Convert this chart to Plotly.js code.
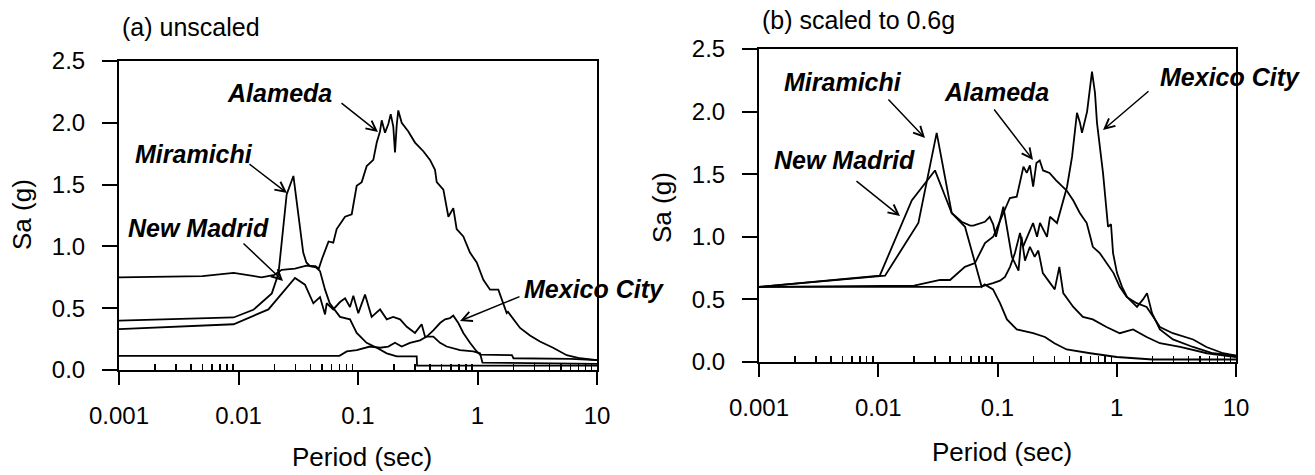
<!DOCTYPE html>
<html>
<head>
<meta charset="utf-8">
<script src="https://cdn.plot.ly/plotly-3.0.1.min.js"></script>
<style>html,body{margin:0;padding:0;background:#fff;}#chart{width:1315px;height:475px;}</style>
</head>
<body>
<div id="chart"></div>
<script>
// ---------------- DATA ----------------
// Panel (a) unscaled — period (sec) and Sa (g)
const alamedaA_T = [0.001,0.005,0.0091,0.0156,0.020,0.023,0.0297,0.037,0.044,0.047,0.050,0.053,0.0567,0.0621,0.0663,0.0779,0.0886,0.0975,0.1074,0.1183,0.1343,0.1435,0.1528,0.1579,0.1683,0.1794,0.1879,0.1974,0.2040,0.2108,0.2173,0.2321,0.2638,0.2999,0.3520,0.4005,0.4410,0.4560,0.5181,0.5707,0.6273,0.6693,0.7610,0.8650,0.985,1.119,1.274,1.494,1.644,1.755,1.80,1.93,2.27,2.75,3.33,4.29,5.58,7.21,10];
const alamedaA_Sa = [0.75,0.76,0.785,0.75,0.77,0.81,0.82,0.845,0.84,0.82,0.90,0.97,1.04,1.03,1.14,1.24,1.26,1.49,1.52,1.65,1.70,1.84,1.93,2.02,1.92,1.99,2.07,1.97,1.76,1.98,2.10,2.00,1.93,1.84,1.77,1.70,1.62,1.52,1.46,1.24,1.31,1.14,1.08,0.95,0.87,0.73,0.65,0.65,0.54,0.46,0.47,0.43,0.34,0.28,0.23,0.18,0.12,0.095,0.08];

const miramichiA_T = [0.001,0.0091,0.0133,0.019,0.0216,0.0253,0.0288,0.0348,0.037,0.0396,0.0445,0.0481,0.053,0.058,0.0707,0.0857,0.0975,0.118,0.1435,0.174,0.211,0.31,0.312,10];
const miramichiA_Sa = [0.40,0.425,0.487,0.62,0.78,1.42,1.57,0.95,0.87,0.84,0.83,0.80,0.65,0.54,0.43,0.41,0.30,0.22,0.18,0.135,0.11,0.11,0.035,0.035];

const newMadridA_T = [0.001,0.0091,0.0178,0.0297,0.036,0.0423,0.0481,0.053,0.0547,0.0621,0.0707,0.0779,0.0857,0.0914,0.1006,0.1145,0.130,0.153,0.174,0.197,0.225,0.256,0.300,0.341,0.364,0.427,0.486,0.552,0.714,0.922,1.05,1.1,10];
const newMadridA_Sa = [0.33,0.37,0.49,0.745,0.69,0.54,0.59,0.45,0.54,0.49,0.55,0.58,0.51,0.60,0.46,0.61,0.43,0.49,0.41,0.43,0.41,0.35,0.30,0.37,0.27,0.27,0.22,0.19,0.16,0.15,0.135,0.06,0.05];

const mexicoA_T = [0.001,0.07,0.0805,0.0975,0.126,0.153,0.179,0.204,0.232,0.272,0.330,0.376,0.427,0.486,0.535,0.589,0.627,0.691,0.761,0.865,0.985,1.05,1.94,2.0,6.0,10];
const mexicoA_Sa = [0.115,0.115,0.15,0.16,0.19,0.18,0.19,0.22,0.19,0.22,0.24,0.27,0.32,0.38,0.41,0.42,0.44,0.38,0.30,0.22,0.15,0.125,0.12,0.095,0.09,0.08];

// Panel (b) scaled to 0.6g
const alamedaB_T = [0.001,0.02,0.033,0.040,0.0533,0.0647,0.0785,0.092,0.112,0.127,0.145,0.165,0.176,0.187,0.199,0.212,0.226,0.241,0.273,0.31,0.38,0.432,0.49,0.56,0.60,0.63,0.72,0.82,0.94,1.06,1.21,1.47,1.78,2.03,2.3,2.95,4.37,5.65,7.8,10];
const alamedaB_Sa = [0.6,0.61,0.655,0.655,0.76,0.79,0.95,1.0,1.19,1.31,1.32,1.56,1.51,1.57,1.40,1.59,1.61,1.53,1.51,1.45,1.37,1.29,1.19,1.11,1.0,0.92,0.87,0.79,0.71,0.60,0.52,0.47,0.44,0.36,0.28,0.23,0.18,0.12,0.07,0.05];

const miramichiB_T = [0.001,0.0114,0.0217,0.0309,0.0413,0.050,0.059,0.0627,0.0785,0.086,0.092,0.097,0.112,0.132,0.150,0.159,0.170,0.187,0.205,0.220,0.240,0.266,0.302,0.330,0.356,0.432,0.52,0.63,0.82,1.06,1.37,1.78,2.3,3.4,5.7,10];
const miramichiB_Sa = [0.6,0.69,1.11,1.83,1.19,1.12,1.09,1.09,1.12,1.16,1.10,1.0,1.24,0.84,0.73,1.0,0.81,0.92,0.84,0.89,0.71,0.65,0.58,0.76,0.55,0.44,0.36,0.34,0.28,0.23,0.26,0.20,0.15,0.12,0.07,0.04];

const newMadridB_T = [0.001,0.0103,0.0191,0.0299,0.0413,0.0534,0.0737,0.078,0.0917,0.105,0.120,0.145,0.199,0.25,0.30,0.38,0.6,1.0,2.0,10];
const newMadridB_Sa = [0.6,0.69,1.29,1.53,1.19,1.08,0.60,0.62,0.58,0.47,0.34,0.26,0.23,0.20,0.15,0.10,0.07,0.04,0.02,0.02];

const mexicoB_T = [0.001,0.05,0.0713,0.0917,0.105,0.1156,0.1274,0.140,0.1544,0.1636,0.1874,0.1986,0.2146,0.227,0.260,0.2754,0.3155,0.334,0.383,0.422,0.464,0.492,0.511,0.564,0.620,0.657,0.683,0.767,0.845,0.895,0.931,1.005,1.107,1.219,1.369,1.478,1.660,1.794,1.976,2.30,2.96,4.36,6.41,10];
const mexicoB_Sa = [0.6,0.6,0.6,0.63,0.65,0.68,0.76,0.87,1.03,0.92,1.05,1.11,1.0,1.11,1.0,1.16,1.11,1.19,1.40,1.64,1.99,1.91,1.83,2.0,2.32,2.15,1.91,1.51,1.08,1.10,0.87,0.71,0.60,0.52,0.47,0.44,0.50,0.55,0.39,0.26,0.18,0.12,0.07,0.05];

// Tick labels
const xTickVals = [0.001, 0.01, 0.1, 1, 10];
const xTickText = ['0.001', '0.01', '0.1', '1', '10'];
const yTickVals = [0, 0.5, 1.0, 1.5, 2.0, 2.5];
const yTickText = ['0.0', '0.5', '1.0', '1.5', '2.0', '2.5'];
const minorDigits = [2, 3, 4, 5, 6, 7, 8, 9];
const decades = [0.001, 0.01, 0.1, 1];

// Text
const panelTitles = ['(a) unscaled', '(b) scaled to 0.6g'];
const xTitle = 'Period (sec)';
const yTitle = 'Sa (g)';

// ---------------- CHART ----------------
const W = 1315, H = 475;
const FONT = 'Liberation Sans, Arial, Helvetica, sans-serif';
const minorVals = [];
decades.forEach(d => minorDigits.forEach(k => minorVals.push(+(d * k).toPrecision(3))));

function line(x, y, xa, ya) {
  return {x: x, y: y, xaxis: xa, yaxis: ya, type: 'scatter', mode: 'lines',
          line: {color: '#000', width: 1.8}, hoverinfo: 'skip', showlegend: false};
}
const data = [
  line(alamedaA_T, alamedaA_Sa, 'x', 'y'),
  line(miramichiA_T, miramichiA_Sa, 'x', 'y'),
  line(newMadridA_T, newMadridA_Sa, 'x', 'y'),
  line(mexicoA_T, mexicoA_Sa, 'x', 'y'),
  line(alamedaB_T, alamedaB_Sa, 'x2', 'y2'),
  line(miramichiB_T, miramichiB_Sa, 'x2', 'y2'),
  line(newMadridB_T, newMadridB_Sa, 'x2', 'y2'),
  line(mexicoB_T, mexicoB_Sa, 'x2', 'y2')
];

function xax(domain, anchor) {
  return {type: 'log', range: [-3, 1], domain: domain, anchor: anchor,
    showline: true, linecolor: '#000', linewidth: 2, mirror: true,
    ticks: 'outside', ticklen: 13, tickwidth: 2, tickcolor: '#000',
    tickmode: 'array', tickvals: xTickVals, ticktext: xTickText,
    tickfont: {family: FONT, size: 24, color: '#000'}, ticklabelstandoff: 10,
    showgrid: false, zeroline: false, fixedrange: true,
    minor: {tickmode: 'array', tickvals: minorVals, ticks: 'inside', ticklen: 6,
            tickwidth: 1.5, tickcolor: '#000', showgrid: false}};
}
function yax(domain, anchor) {
  return {range: [0, 2.5], domain: domain, anchor: anchor,
    showline: true, linecolor: '#000', linewidth: 2, mirror: true,
    ticks: 'outside', ticklen: 15, tickwidth: 2, tickcolor: '#000',
    tickmode: 'array', tickvals: yTickVals, ticktext: yTickText,
    tickfont: {family: FONT, size: 24, color: '#000'}, ticklabelstandoff: 12,
    showgrid: false, zeroline: false, fixedrange: true};
}

function txt(t, px, py, o) {
  o = o || {};
  return Object.assign({xref: 'paper', yref: 'paper', x: px / W, y: 1 - py / H, text: t,
    showarrow: false, xanchor: 'center', yanchor: 'middle',
    font: {family: FONT, size: 25, color: '#000'}}, o);
}
function lab(t, px, py) {
  return txt('<b><i>' + t + '</i></b>', px, py, {font: {family: FONT, size: 25, color: '#000'}});
}
function arrow(tx, ty, hx, hy) {
  return {xref: 'paper', yref: 'paper', x: hx / W, y: 1 - hy / H,
    axref: 'pixel', ayref: 'pixel', ax: tx - hx, ay: ty - hy, text: '',
    showarrow: true, arrowhead: 5, arrowsize: 1.3, arrowwidth: 1.5, arrowcolor: '#000'};
}

const annotations = [
  txt(panelTitles[0], 120, 27, {xanchor: 'left'}),
  txt(panelTitles[1], 760, 20, {xanchor: 'left'}),
  txt(yTitle, 22, 215, {textangle: -90, font: {family: FONT, size: 26, color: '#000'}}),
  txt(yTitle, 662, 207, {textangle: -90, font: {family: FONT, size: 26, color: '#000'}}),
  txt(xTitle, 362, 457, {font: {family: FONT, size: 26, color: '#000'}}),
  txt(xTitle, 1002, 452, {font: {family: FONT, size: 26, color: '#000'}}),
  // panel (a) labels
  lab('Alameda', 279, 93),
  lab('Miramichi', 194, 154),
  lab('New Madrid', 198, 228),
  lab('Mexico City', 594, 289),
  arrow(340, 102, 378, 132),
  arrow(248, 163, 287, 193),
  arrow(242, 242, 283, 281),
  arrow(521, 296, 460, 321),
  // panel (b) labels
  lab('Miramichi', 843, 82),
  lab('New Madrid', 844, 160),
  lab('Alameda', 996, 92),
  lab('Mexico City', 1230, 77),
  arrow(887, 98, 925, 138),
  arrow(855, 180, 900, 216),
  arrow(993, 108, 1033, 160),
  arrow(1150, 90, 1103, 130)
];

const layout = {
  width: W, height: H, autosize: false,
  margin: {l: 0, r: 0, t: 0, b: 0, pad: 0},
  paper_bgcolor: '#fff', plot_bgcolor: '#fff',
  showlegend: false,
  font: {family: FONT, color: '#000'},
  xaxis: xax([119 / W, 597 / W], 'y'),
  yaxis: yax([1 - 370 / H, 1 - 61 / H], 'x'),
  xaxis2: xax([759 / W, 1236 / W], 'y2'),
  yaxis2: yax([1 - 362 / H, 1 - 49 / H], 'x2'),
  annotations: annotations
};

Plotly.newPlot('chart', data, layout, {displayModeBar: false, staticPlot: true});
</script>
</body>
</html>
